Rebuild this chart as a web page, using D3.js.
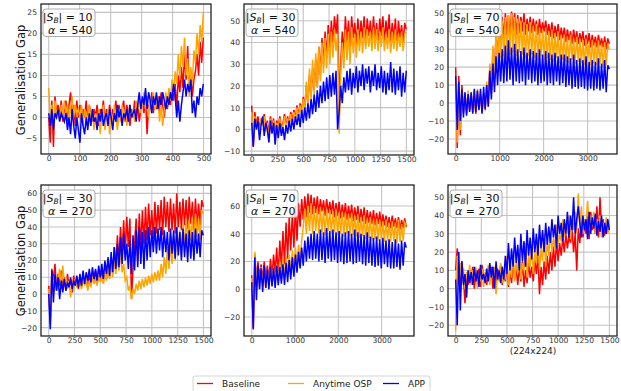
<!DOCTYPE html>
<html><head><meta charset="utf-8">
<script src="https://cdn.jsdelivr.net/npm/d3@7"></script>
<style>body{margin:0;background:#fff}svg{display:block}</style></head><body>
<svg id="c" width="621" height="391"></svg>
<script>
const seriesNames = ["Baseline", "Anytime OSP", "APP"];
const seriesColors = ["#ff0000", "#ffa500", "#0000ff"];
const setSizes = [10, 30, 70, 30, 70, 30];
const alphas = [540, 540, 540, 270, 270, 270];
const xMax = [499, 1499, 3495, 1499, 3570, 1499];
const xTicks = [
  [0, 100, 200, 300, 400, 500],
  [0, 250, 500, 750, 1000, 1250, 1500],
  [0, 1000, 2000, 3000],
  [0, 250, 500, 750, 1000, 1250, 1500],
  [0, 1000, 2000, 3000],
  [0, 250, 500, 750, 1000, 1250, 1500]
];
const yTicks = [
  [-5, 0, 5, 10, 15, 20, 25],
  [-10, 0, 10, 20, 30, 40, 50],
  [-20, -10, 0, 10, 20, 30, 40, 50],
  [-20, -10, 0, 10, 20, 30, 40, 50, 60],
  [-20, 0, 20, 40, 60],
  [-20, -10, 0, 10, 20, 30, 40, 50]
];
const yLimits = [[-8.7, 27], [-11.8, 57.7], [-28.4, 55.2], [-25, 65], [-33.7, 75.1], [-25.9, 56.7]];

const p1Baseline = [0,-6,4,-7,5,1,3,0,4,-1, 2,4,-1,3,6,1,3,-2,4,0, 3,-1,2,0,4,-2,3,1,-1,2, 0,3,-2,2,1,4,-1,2,0,3, -1,2,1,4,-2,3,0,2,4,-1, 3,1,-2,2,0,4,1,3,-1,2, 4,1,5,-4,3,2,6,1,4,2, 5,1,6,3,0,4,2,5,3,7, 4,8,2,10,6,12,7,15,9,17, 7,10,5,9,11,15,10,18,13,19];
const p1Osp = [7,0,3,-3,4,1,2,-1,3,0, 4,1,3,-1,2,5,0,3,1,2, 0,3,-2,2,1,-1,3,0,2,-3, 1,-2,2,-4,1,3,-3,0,2,-4, 1,-2,3,0,-3,2,-1,3,0,2, -2,1,3,0,2,-1,4,2,5,1, 3,6,2,5,0,4,1,6,2,3, 5,-1,3,-2,2,6,3,7,4,9, 6,11,8,15,9,17,12,19,10,14, 5,12,8,16,13,20,15,22,18,25];
const p1App = [1,-2,2,-3,1,0,2,-1,1,0, -1,1,-3,0,-4,2,-2,-5,0,-3, -6,1,-2,-4,0,-3,1,-2,2,-1, 0,-3,1,-1,2,-2,0,1,-2,2, 0,-3,1,-1,3,0,2,-2,1,0, 2,-1,3,0,1,2,-1,3,6,2, 5,3,7,2,6,4,1,5,3,6, 2,5,3,6,4,2,5,3,6,4, 8,5,0,4,-1,3,6,9,5,8, 6,9,1,4,0,5,3,7,5,8];

const p2Baseline = [11,-8,8,2,6,0,5,3,7,1, 4,-2,6,1,5,-3,4,2,6,0, 3,7,1,6,2,8,4,9,5,11, 6,12,8,15,10,20,12,25,15,28, 18,32,20,38,25,42,30,45,33,48, 35,50,40,52,44,53,12,30,45,35, 52,40,50,36,52,42,49,38,51,40, 50,42,52,39,51,43,50,40,52,41, 49,38,51,43,52,40,50,42,53,39, 49,41,51,38,50,42,48,40,49,46];
const p2Osp = [8,-5,6,1,4,-3,5,2,6,-1, 3,-6,5,0,4,-7,3,1,5,-2, 2,6,0,5,3,7,2,8,4,10, 5,11,7,14,9,22,11,28,14,32, 16,35,19,38,22,40,26,42,28,44, 30,45,33,46,36,44,-2,25,40,28, 46,32,45,30,47,35,44,33,46,36, 45,35,47,37,46,38,45,36,47,37, 46,36,45,38,47,36,44,37,46,35, 45,37,46,36,44,38,45,36,44,45];
const p2App = [3,-8,5,0,4,-5,2,6,-3,3, 0,-6,4,-2,3,-7,2,-4,3,-3, 1,-5,2,-2,4,-1,5,0,6,2, 7,1,9,3,10,4,12,5,14,7, 16,8,18,10,20,12,22,13,24,14, 25,15,26,16,27,0,8,20,12,24, 17,27,18,28,16,26,19,29,17,27, 20,30,18,28,21,29,17,27,20,30, 18,26,19,29,17,27,16,26,18,31, 17,28,16,27,18,29,15,26,17,27];

const p3Baseline = [20,-25,15,-18,10,-5,5,-6,4,-4, 5,-5,3,-6,5,-3,4,-5,5,-4, 10,0,20,5,30,15,38,25,45,35, 48,36,50,38,49,37,51,40,50,38, 49,39,48,40,50,38,47,40,48,39, 47,40,46,38,47,39,45,40,46,38, 44,37,45,36,43,37,44,35,42,36, 42,34,41,35,40,33,41,34,40,33, 39,34,40,32,38,33,39,31,38,32, 37,31,38,32,36,31,37,30,36,33];
const p3Osp = [15,-22,12,-15,8,-6,6,-5,7,-3, 6,-4,7,-5,8,-3,6,-4,5,-2, 12,-2,22,5,32,12,40,20,45,25, 46,26,48,25,49,27,50,28,48,26, 47,28,46,27,45,25,44,26,45,27, 43,25,44,24,42,26,41,24,42,25, 40,24,41,23,39,25,40,22,38,24, 38,23,37,22,38,24,36,22,37,23, 36,22,35,21,36,23,34,21,35,22, 34,21,35,22,33,20,34,21,33,30];
const p3App = [15,-15,12,-10,8,-8,6,-7,5,-5, 6,-6,8,-5,7,-4,8,-6,9,-3, 10,-2,18,2,22,6,26,10,28,12, 30,11,32,12,35,13,31,10,33,12, 30,11,29,12,31,10,28,13,30,11, 29,12,28,10,30,11,27,12,29,10, 28,11,27,10,28,12,26,10,27,11, 27,9,26,10,25,8,27,9,24,8, 25,9,24,8,26,7,23,8,24,7, 23,8,25,7,22,8,24,6,21,19];

const p4Baseline = [5,-18,15,8,18,2,12,5,14,3, 10,2,12,4,9,1,11,5,8,3, 10,4,12,6,11,3,13,5,12,7, 14,6,13,8,15,7,17,9,20,10, 22,12,28,15,35,18,40,22,44,25, 46,28,45,-3,15,30,45,20,48,28, 50,30,52,32,54,35,50,33,55,36, 53,38,56,35,58,40,55,37,57,38, 54,36,60,40,55,38,57,41,56,39, 58,42,55,38,57,40,54,41,56,52];
const p4Osp = [3,-10,10,5,12,2,8,15,4,17, 6,10,3,8,-2,7,2,9,4,8, 6,3,9,5,10,2,8,4,11,6, 9,5,12,7,10,6,14,8,16,9, 18,10,20,12,22,14,25,13,18,8, 10,2,5,-3,3,0,6,2,8,3, 9,4,10,5,11,6,12,7,13,8, 14,8,18,10,22,12,28,15,30,18, 35,20,40,25,38,22,42,28,45,30, 44,32,46,30,48,34,45,32,50,48];
const p4App = [0,-21,14,-5,12,2,10,-3,8,1, 9,2,7,4,10,3,8,5,11,4, 12,5,14,6,13,8,15,7,16,9, 15,8,17,10,18,9,20,12,22,11, 25,13,28,15,30,16,34,18,36,20, 30,15,32,12,35,14,38,16,40,18, 37,15,38,20,40,22,38,25,40,24, 39,26,40,22,38,25,37,20,39,24, 38,21,40,23,37,20,39,22,36,19, 38,21,37,20,39,24,36,22,38,35];

const p5Baseline = [10,-28,25,5,20,8,18,6,20,8, 17,7,22,9,25,12,30,10,35,15, 42,18,48,22,52,28,55,30,60,35, 62,45,65,50,67,52,69,55,68,54, 66,55,67,54,65,56,64,53,65,55, 63,54,64,52,62,53,63,51,61,52, 62,50,60,51,61,49,59,50,60,48, 58,49,59,47,57,48,56,47,57,46, 55,47,56,45,54,46,53,45,52,44, 53,45,51,44,52,43,50,44,51,45];
const p5Osp = [8,-17,27,2,18,0,16,3,15,1, 14,2,16,4,15,3,18,5,20,6, 22,8,24,10,25,12,28,15,30,18, 32,20,35,45,58,40,60,42,62,40, 60,42,58,40,59,41,57,39,58,42, 57,40,56,41,58,39,55,40,56,38, 55,40,54,38,55,39,53,38,54,37, 52,38,53,36,51,37,52,35,50,36, 51,35,50,36,49,34,50,35,48,34, 49,35,48,33,50,34,47,35,48,46];
const p5App = [5,-29,23,-8,18,0,15,-2,17,1, 14,0,16,2,15,1,17,3,16,4, 18,3,19,5,21,7,23,9,25,12, 27,15,30,17,35,20,38,22,40,21, 42,22,40,20,43,21,41,19,44,22, 42,20,43,21,41,19,42,20,40,18, 41,19,42,20,40,18,43,19,41,20, 40,18,39,17,41,19,38,17,37,16, 38,17,36,15,37,18,35,16,36,15, 34,15,36,16,33,14,35,17,34,30];

const p6Baseline = [10,22,12,-2,15,5,-8,8,2,10, 3,12,0,9,4,11,1,13,5,8, 2,10,4,12,0,9,3,11,5,13, 2,8,4,12,1,10,3,14,5,11, 2,12,4,15,1,10,3,14,6,12, 4,16,8,18,-3,12,2,15,5,18, 8,20,10,23,12,26,15,25,18,28, 20,30,22,29,25,32,20,30,10,33, 25,38,28,35,30,40,27,42,32,36, 30,45,28,50,32,38,29,36,31,34];
const p6Osp = [-23,18,8,14,3,11,0,9,5,13, 2,10,6,12,0,8,4,11,1,9, 5,13,2,10,6,12,-3,8,4,14, 3,10,5,18,2,12,6,20,4,15, 8,22,5,14,10,25,6,18,12,24, 8,20,14,28,10,22,15,30,12,26, 18,32,20,28,22,35,24,30,26,38, 28,36,30,40,27,38,32,42,30,52, 33,45,30,38,35,48,32,40,34,42, 30,38,33,40,28,36,32,39,30,35];
const p6App = [5,-20,20,-12,15,2,8,-5,10,3, 9,2,12,4,10,1,13,5,8,3, 11,4,14,6,12,0,15,5,10,3, 12,5,18,8,25,10,22,12,28,14, 24,10,30,15,26,12,32,18,28,16, 33,20,30,18,35,22,32,20,36,24, 34,25,38,28,35,22,40,30,36,26, 38,30,42,28,40,32,50,30,38,45, 36,28,40,32,38,27,42,30,39,33, 41,29,37,31,40,28,36,30,38,32];

const panelSeries = [
  [p1Baseline, p1Osp, p1App],
  [p2Baseline, p2Osp, p2App],
  [p3Baseline, p3Osp, p3App],
  [p4Baseline, p4Osp, p4App],
  [p5Baseline, p5Osp, p5App],
  [p6Baseline, p6Osp, p6App]
];

// layout
const frames = [
  {l: 41, t: 4, w: 170, h: 150},
  {l: 244, t: 4, w: 170, h: 151},
  {l: 448, t: 4, w: 169, h: 150},
  {l: 41, t: 185, w: 170, h: 151},
  {l: 244, t: 185, w: 170, h: 151},
  {l: 448, t: 185, w: 169, h: 151}
];

const svg = d3.select("#c");
const FONT = "DejaVu Sans, sans-serif";

frames.forEach((f, pi) => {
  const g = svg.append("g").attr("transform", `translate(${f.l},${f.t})`);
  const xm = xMax[pi];
  const x = d3.scaleLinear().domain([-0.05 * xm, 1.05 * xm]).range([0, f.w]);
  const y = d3.scaleLinear().domain(yLimits[pi]).range([f.h, 0]);

  // grid
  g.append("g").selectAll("line").data(xTicks[pi]).join("line")
    .attr("x1", d => x(d)).attr("x2", d => x(d)).attr("y1", 0).attr("y2", f.h)
    .attr("stroke", "#c4c4c4").attr("stroke-width", 1.1);
  g.append("g").selectAll("line").data(yTicks[pi]).join("line")
    .attr("y1", d => y(d)).attr("y2", d => y(d)).attr("x1", 0).attr("x2", f.w)
    .attr("stroke", "#c4c4c4").attr("stroke-width", 1.1);

  const cid = "clip" + pi;
  g.append("clipPath").attr("id", cid).append("rect").attr("width", f.w).attr("height", f.h);
  const lg = g.append("g").attr("clip-path", `url(#${cid})`);
  panelSeries[pi].forEach((vals, si) => {
    const step = xm / (vals.length - 1);
    const line = d3.line().x((d, i) => x(i * step)).y(d => y(d));
    lg.append("path").datum(vals).attr("d", line)
      .attr("fill", "none").attr("stroke", seriesColors[si])
      .attr("stroke-width", 1.5).attr("stroke-linejoin", "miter");
  });

  // axes
  const xa = g.append("g").attr("transform", `translate(0,${f.h})`)
    .call(d3.axisBottom(x).tickValues(xTicks[pi]).tickSize(0).tickPadding(2).tickFormat(d3.format("d")));
  const ya = g.append("g")
    .call(d3.axisLeft(y).tickValues(yTicks[pi]).tickSize(0).tickPadding(4).tickFormat(d => d < 0 ? "\u2212" + Math.abs(d) : d));
  [xa, ya].forEach(a => {
    a.select(".domain").remove();
    a.selectAll("text").attr("font-family", FONT).attr("font-size", 7.6).attr("fill", "#333");
  });

  g.append("rect").attr("width", f.w).attr("height", f.h)
    .attr("fill", "none").attr("stroke", "#111").attr("stroke-width", 1.2);

  // annotation
  const a = g.append("g").attr("transform", "translate(2,5)");
  a.append("rect").attr("width", 52).attr("height", 27.5).attr("rx", 3)
    .attr("fill", "rgba(255,255,255,0.8)").attr("stroke", "#999").attr("stroke-width", 0.8);
  const t1 = a.append("text").attr("x", 49.5).attr("y", 11.5).attr("text-anchor", "end")
    .attr("font-family", FONT).attr("font-size", 11).attr("fill", "#111");
  t1.append("tspan").text("|");
  t1.append("tspan").attr("font-style", "italic").text("S");
  t1.append("tspan").attr("font-style", "italic").attr("font-size", 7.5).attr("dy", 2).text("B");
  t1.append("tspan").attr("dy", -2).text("| = " + setSizes[pi]);
  const t2 = a.append("text").attr("x", 49.5).attr("y", 24.5).attr("text-anchor", "end")
    .attr("font-family", FONT).attr("font-size", 11).attr("fill", "#111");
  t2.append("tspan").attr("font-style", "italic").text("\u03b1");
  t2.append("tspan").text(" = " + alphas[pi]);
});

// y labels
[[21, 80], [21, 261]].forEach(([cx, cy]) => {
  svg.append("text").attr("transform", `translate(${cx},${cy}) rotate(-90)`)
    .attr("text-anchor", "middle").attr("dominant-baseline", "central")
    .attr("font-family", FONT).attr("font-size", 11.5).attr("fill", "#111")
    .text("Generalisation Gap");
});
svg.append("text").attr("x", 533).attr("y", 353.5).attr("text-anchor", "middle")
  .attr("font-family", FONT).attr("font-size", 9).attr("fill", "#222").text("(224x224)");

// legend
const leg = svg.append("g");
leg.append("rect").attr("x", 193).attr("y", 376).attr("width", 237).attr("height", 22).attr("rx", 2)
  .attr("fill", "#fff").attr("stroke", "#ccc").attr("stroke-width", 0.8);
const legX = [197, 288, 383];
seriesNames.forEach((n, i) => {
  leg.append("line").attr("x1", legX[i]).attr("x2", legX[i] + 16).attr("y1", 383.5).attr("y2", 383.5)
    .attr("stroke", seriesColors[i]).attr("stroke-width", 1.3);
  leg.append("text").attr("x", legX[i] + 25).attr("y", 383.5).attr("dominant-baseline", "central")
    .attr("font-family", FONT).attr("font-size", 9).attr("fill", "#222").text(n);
});
</script>
</body></html>
